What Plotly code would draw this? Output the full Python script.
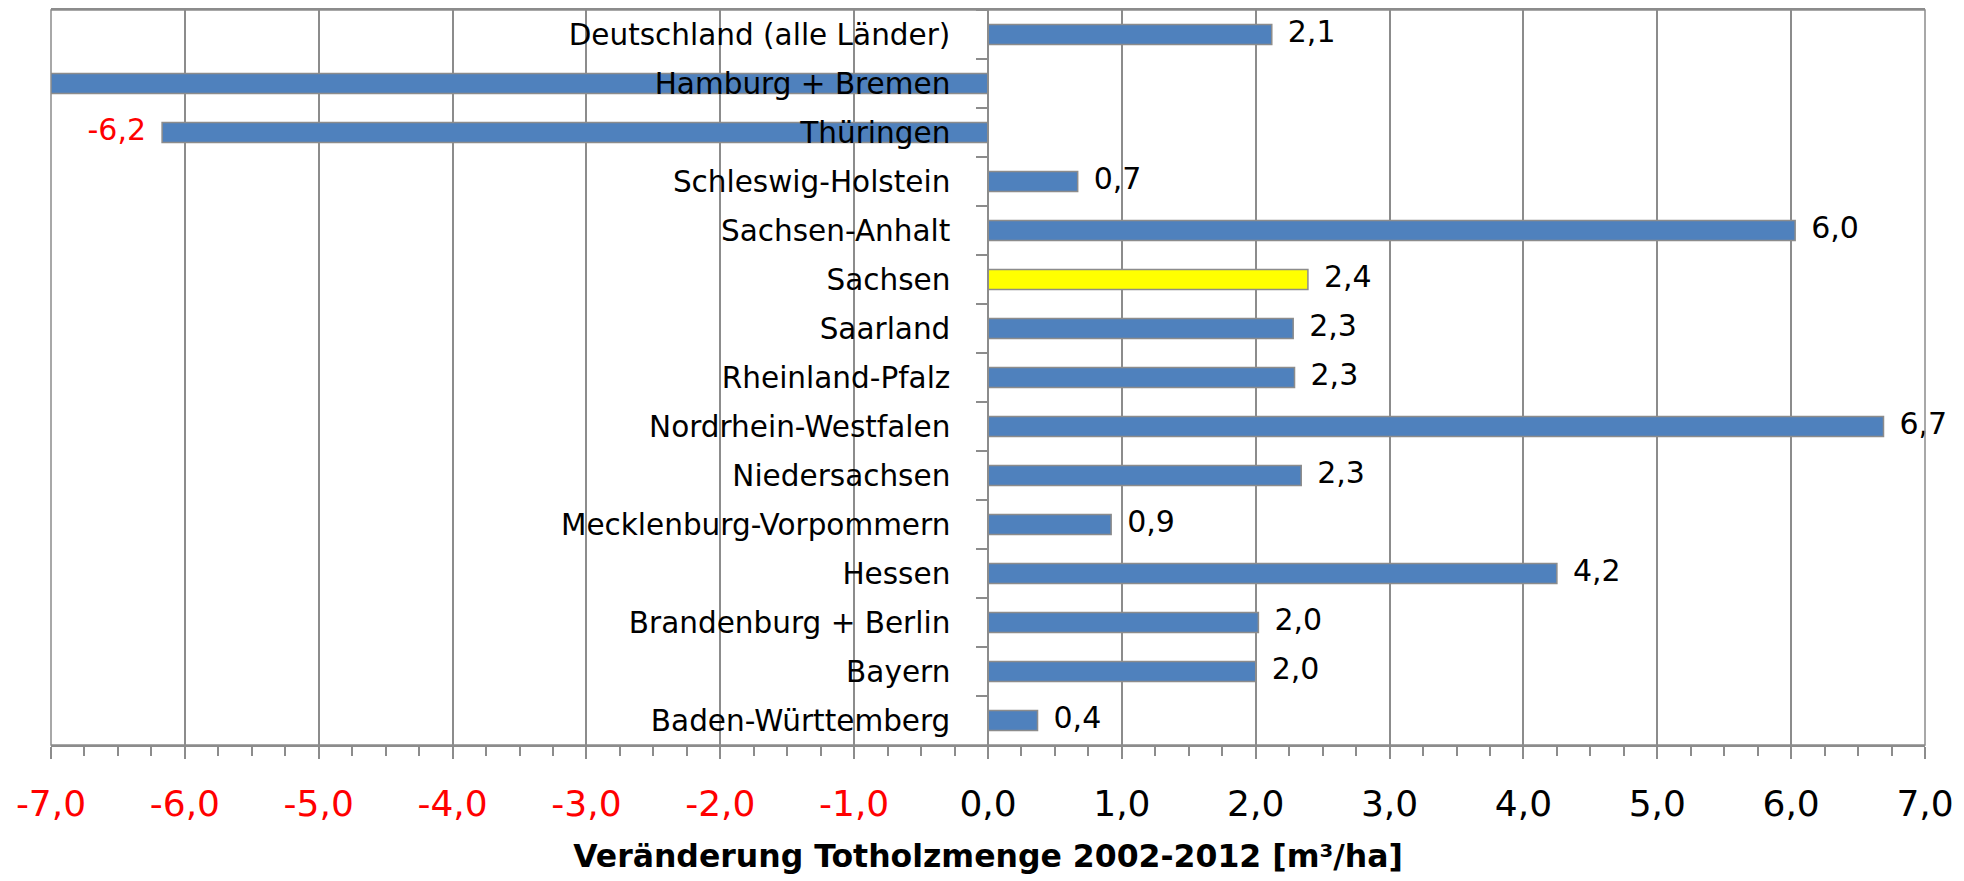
import plotly.graph_objects as go

# Data (top to bottom as displayed)
categories = [
    "Deutschland (alle Länder)",
    "Hamburg + Bremen",
    "Thüringen",
    "Schleswig-Holstein",
    "Sachsen-Anhalt",
    "Sachsen",
    "Saarland",
    "Rheinland-Pfalz",
    "Nordrhein-Westfalen",
    "Niedersachsen",
    "Mecklenburg-Vorpommern",
    "Hessen",
    "Brandenburg + Berlin",
    "Bayern",
    "Baden-Württemberg",
]
values = [2.12, -9.0, -6.17, 0.67, 6.03, 2.39, 2.28, 2.29, 6.69, 2.34, 0.92, 4.25, 2.02, 2.00, 0.37]
highlight = "Sachsen"

x_min, x_max = -7.0, 7.0
tick_values = [-7, -6, -5, -4, -3, -2, -1, 0, 1, 2, 3, 4, 5, 6, 7]

FONT = "DejaVu Sans"
BLUE = "#4F81BD"
YELLOW = "#FFFF00"
GRAY = "#8C8C8C"
RED = "#FF0000"

def fmt(v):
    return f"{v:.1f}".replace(".", ",")

bar_colors = [YELLOW if c == highlight else BLUE for c in categories]

fig = go.Figure()
fig.add_trace(go.Bar(
    x=values, y=categories, orientation="h",
    marker=dict(color=bar_colors, line=dict(color=GRAY, width=1.5)),
    width=0.41, hoverinfo="skip", showlegend=False,
))

# data labels (only those whose bar ends inside the axis range)
lab_x, lab_y, lab_t, lab_pos, lab_col = [], [], [], [], []
for c, v in zip(categories, values):
    if x_min <= v <= x_max:
        lab_x.append(v)
        lab_y.append(c)
        lab_t.append(fmt(v))
        lab_pos.append("middle right" if v >= 0 else "middle left")
        lab_col.append("black" if v >= 0 else RED)

fig.add_trace(go.Scatter(
    x=lab_x, y=lab_y, text=lab_t, mode="markers+text",
    marker=dict(size=24, opacity=0),
    textposition=lab_pos,
    textfont=dict(family=FONT, size=30, color=lab_col),
    hoverinfo="skip", showlegend=False, cliponaxis=False,
))

tick_text = [
    (f'<span style="color:{RED}">{fmt(t)}</span>' if t < 0 else fmt(t))
    for t in tick_values
]

n_cat = len(categories)

fig.update_layout(
    width=1956, height=873,
    margin=dict(l=43, r=39, t=0, b=136),
    paper_bgcolor="white", plot_bgcolor="white",
    font=dict(family=FONT, color="black"),
    xaxis=dict(
        range=[x_min, x_max],
        tickvals=tick_values, ticktext=tick_text,
        tickfont=dict(family=FONT, size=36, color="black"),
        ticks="outside", ticklen=12, tickwidth=1.5, tickcolor=GRAY,
        ticklabelstandoff=14,
        showgrid=True, gridcolor=GRAY, gridwidth=1.5,
        zeroline=True, zerolinecolor=GRAY, zerolinewidth=1.5,
        showline=True, linecolor=GRAY, linewidth=1.5, mirror=True,
        minor=dict(dtick=0.25, tick0=0, ticks="outside", ticklen=9,
                   tickwidth=1.5, tickcolor=GRAY, showgrid=False),
        title=dict(text="<b>Veränderung Totholzmenge 2002-2012 [m³/ha]</b>",
                   font=dict(family=FONT, size=31.5, color="black"), standoff=22),
    ),
    yaxis=dict(
        type="category", categoryorder="array", categoryarray=categories,
        range=[n_cat - 0.5, -0.5],
        anchor="free", position=0.5,
        tickson="boundaries",
        ticks="outside", ticklen=11, tickwidth=1.5, tickcolor=GRAY,
        ticklabelstandoff=31,
        tickfont=dict(family=FONT, size=29.5, color="black"),
        showgrid=False, showline=True, linecolor=GRAY, linewidth=1.5,
    ),
    shapes=[dict(type="rect", xref="paper", yref="paper", x0=0, x1=1, y0=0, y1=1,
                 line=dict(color=GRAY, width=1.5), layer="above")],
)

fig.write_html("out.html")
